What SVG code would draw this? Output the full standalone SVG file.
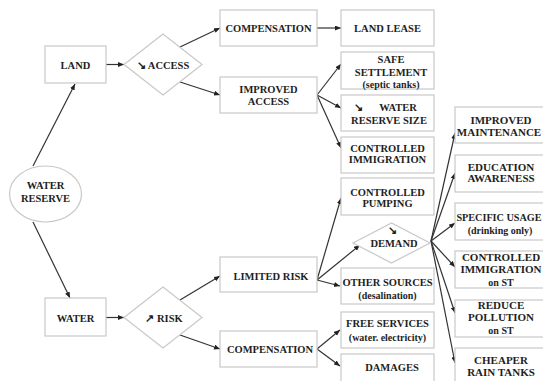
<svg xmlns="http://www.w3.org/2000/svg" width="543" height="381" viewBox="0 0 543 381">
<style>
.box{fill:#fff;stroke:#c8c8c8;stroke-width:1.2}
.t{font-family:"Liberation Serif","Times New Roman",serif;font-weight:bold;font-size:10.5px;fill:#1e1e1e;text-anchor:middle}
.s{font-size:10px}
.r{font-size:11px}
.c{fill:none;stroke:#333;stroke-width:1.2;marker-end:url(#ah)}
</style>
<defs>
<marker id="ah" markerUnits="userSpaceOnUse" markerWidth="7" markerHeight="6" refX="6" refY="2.5" orient="auto">
<path d="M0,0 L6,2.5 L0,5 z" fill="#222"/>
</marker>
</defs>
<rect width="543" height="381" fill="#fff"/>
<g id="connectors">
<path class="c" d="M33,166 L75,84"/>
<path class="c" d="M33,222 L70,298"/>
<path class="c" d="M106,64.5 L124,64.5"/>
<path class="c" d="M106,317.5 L124,317.5"/>
<path class="c" d="M180,47 L220,28"/>
<path class="c" d="M180,82 L220,95"/>
<path class="c" d="M317,28 L341,28"/>
<path class="c" d="M317,95 L341,64"/>
<path class="c" d="M317,95 L341,108"/>
<path class="c" d="M317,95 L341,148"/>
<path class="c" d="M180,300 L220,276"/>
<path class="c" d="M180,335 L220,349"/>
<path class="c" d="M317,280 L341,198"/>
<path class="c" d="M317,280 L360,245"/>
<path class="c" d="M317,280 L340,286"/>
<path class="c" d="M317,349 L340,330"/>
<path class="c" d="M317,349 L340,366"/>
<path class="c" d="M431,241 L455,133"/>
<path class="c" d="M431,241 L455,173"/>
<path class="c" d="M431,241 L455,223"/>
<path class="c" d="M431,241 L455,267"/>
<path class="c" d="M431,241 L455,313"/>
<path class="c" d="M431,241 L455,363"/>
</g>
<g id="water-reserve"><ellipse class="box" cx="45.5" cy="194" rx="36" ry="28"/><text class="t" x="45.5" y="188.5">WATER</text><text class="t" x="45.5" y="201.5">RESERVE</text></g>
<g id="land"><rect class="box" x="45" y="46" width="61" height="37"/><text class="t" x="75.5" y="68.5">LAND</text></g>
<g id="water"><rect class="box" x="45" y="298" width="61" height="38"/><text class="t" x="75.5" y="321.5">WATER</text></g>
<g id="access"><polygon class="box" points="124,64.5 163,34 202,64.5 163,95"/><text class="t" x="163" y="68.5">↘ ACCESS</text></g>
<g id="risk"><polygon class="box" points="124,317.5 163,287 202,317.5 163,348"/><text class="t" x="164" y="321.5">↗ RISK</text></g>
<g id="compensation-top"><rect class="box" x="220" y="10" width="97" height="36"/><text class="t" x="268.5" y="32">COMPENSATION</text></g>
<g id="improved-access"><rect class="box" x="220" y="77" width="97" height="36"/><text class="t" x="268.5" y="93">IMPROVED</text><text class="t" x="268.5" y="104.5">ACCESS</text></g>
<g id="land-lease"><rect class="box" x="341" y="10" width="93" height="36"/><text class="t" x="387.5" y="32">LAND LEASE</text></g>
<g id="safe-settlement"><rect class="box" x="341" y="52" width="93" height="37"/><text class="t" x="391" y="62.5">SAFE</text><text class="t" x="391" y="75.5">SETTLEMENT</text><text class="t s" x="391" y="87.5">(septic tanks)</text></g>
<g id="water-reserve-size"><rect class="box" x="341" y="95" width="93" height="36"/><text class="t" x="358" y="110.5">↘</text><text class="t" x="398" y="110.5">WATER</text><text class="t" x="389" y="124">RESERVE SIZE</text></g>
<g id="controlled-immigration"><rect class="box" x="341" y="137" width="93" height="36"/><text class="t" x="387.5" y="152">CONTROLLED</text><text class="t" x="387.5" y="163">IMMIGRATION</text></g>
<g id="controlled-pumping"><rect class="box" x="341" y="178" width="93" height="37"/><text class="t" x="387.5" y="196">CONTROLLED</text><text class="t" x="387.5" y="207">PUMPING</text></g>
<g id="demand"><polygon class="box" points="353,243 391.5,223 430,243 391.5,263"/><text class="t" x="392" y="233.5">↘</text><text class="t" x="394" y="246.5">DEMAND</text></g>
<g id="limited-risk"><rect class="box" x="220" y="257" width="97" height="35"/><text class="t" x="271" y="280">LIMITED RISK</text></g>
<g id="compensation-bottom"><rect class="box" x="220" y="331" width="97" height="36"/><text class="t" x="270" y="353">COMPENSATION</text></g>
<g id="other-sources"><rect class="box" x="341" y="268" width="93" height="36"/><text class="t" x="387.5" y="286">OTHER SOURCES</text><text class="t s" x="387.5" y="298.5">(desalination)</text></g>
<g id="free-services"><rect class="box" x="341" y="312" width="93" height="36"/><text class="t" x="387.5" y="327">FREE SERVICES</text><text class="t s" x="387.5" y="340.5">(water. electricity)</text></g>
<g id="damages"><rect class="box" x="341" y="354" width="93" height="36"/><text class="t" x="392" y="371">DAMAGES</text></g>
<g id="improved-maintenance"><rect class="box" x="455" y="107" width="92" height="36"/><text class="t r" x="501" y="124">IMPROVED</text><text class="t r" x="499" y="135.5">MAINTENANCE</text></g>
<g id="education-awareness"><rect class="box" x="455" y="155" width="92" height="37"/><text class="t r" x="501" y="171">EDUCATION</text><text class="t r" x="501" y="182">AWARENESS</text></g>
<g id="specific-usage"><rect class="box" x="455" y="203" width="92" height="37"/><text class="t" x="499" y="221" style="font-size:10.2px">SPECIFIC USAGE</text><text class="t s" x="500" y="233.5">(drinking only)</text></g>
<g id="controlled-immigration-st"><rect class="box" x="455" y="251" width="92" height="37"/><text class="t r" x="501" y="261">CONTROLLED</text><text class="t r" x="501" y="273">IMMIGRATION</text><text class="t s" x="501" y="285.5">on ST</text></g>
<g id="reduce-pollution"><rect class="box" x="455" y="300" width="92" height="37"/><text class="t r" x="501" y="309">REDUCE</text><text class="t r" x="501" y="321">POLLUTION</text><text class="t s" x="501" y="333.5">on ST</text></g>
<g id="cheaper-rain-tanks"><rect class="box" x="455" y="348" width="92" height="40"/><text class="t r" x="501" y="364">CHEAPER</text><text class="t r" x="501" y="376">RAIN TANKS</text></g>
</svg>
